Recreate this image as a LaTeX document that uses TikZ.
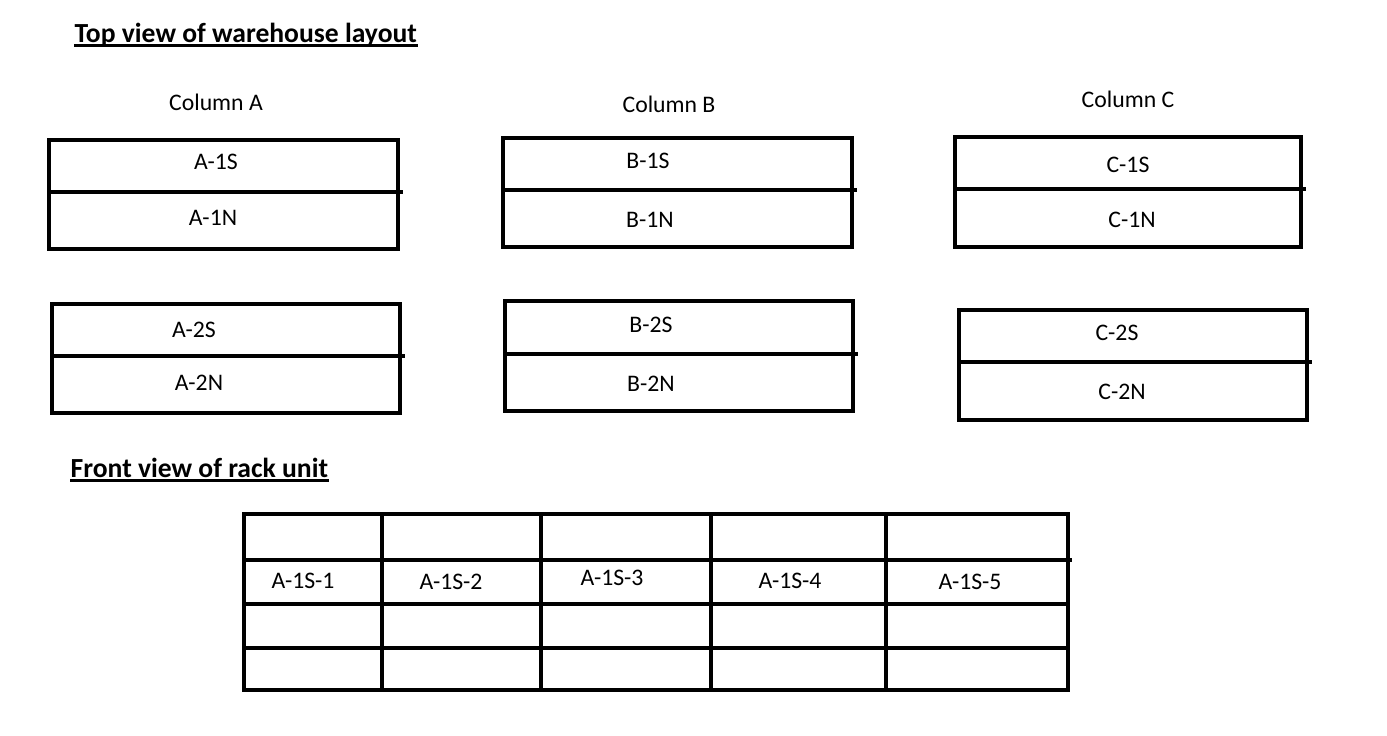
\documentclass[tikz,border=0pt]{standalone}
\usepackage{fontspec}
\setmainfont{Carlito}
\begin{document}
\begin{tikzpicture}[x=0.01cm,y=-0.01cm,
  wall/.style={line width=0.045cm,line cap=rect},
  uline/.style={line width=0.028cm},
  lbl/.style={font=\fontsize{6.75}{8}\selectfont,inner sep=0pt},
  head/.style={font=\fontsize{7.85}{9}\selectfont\bfseries,inner sep=0pt,anchor=base west}]
\useasboundingbox (0,0) rectangle (1387,736);
%
\node[head] (topview) at (74,42) {Top view of warehouse layout};
\draw[uline] ([yshift=-0.035cm]topview.base west) -- ([yshift=-0.035cm]topview.base east);
\node[lbl] (colA) at (216,102) {Column A};
\node[lbl] (colB) at (669,104) {Column B};
\node[lbl] (colC) at (1128,99) {Column C};
%
\draw[wall] (49,140) rectangle (398,249);
\draw[wall] (49,192) -- (401,192);
\draw[wall] (52,304) rectangle (400,413);
\draw[wall] (52,356) -- (403,356);
\draw[wall] (503,138) rectangle (852,247);
\draw[wall] (503,190) -- (855,190);
\draw[wall] (505,301) rectangle (853,411);
\draw[wall] (505,354) -- (856,354);
\draw[wall] (955,137) rectangle (1301,247);
\draw[wall] (955,189) -- (1304,189);
\draw[wall] (959,310) rectangle (1307,420);
\draw[wall] (959,362) -- (1310,362);
%
\node[lbl] (a1s) at (216,162) {A-1S};
\node[lbl] (a1n) at (213,218) {A-1N};
\node[lbl] (a2s) at (194,330) {A-2S};
\node[lbl] (a2n) at (199,383) {A-2N};
\node[lbl] (b1s) at (648,161) {B-1S};
\node[lbl] (b1n) at (650,220) {B-1N};
\node[lbl] (b2s) at (651,325) {B-2S};
\node[lbl] (b2n) at (651,384) {B-2N};
\node[lbl] (c1s) at (1128,165) {C-1S};
\node[lbl] (c1n) at (1132,220) {C-1N};
\node[lbl] (c2s) at (1117,333) {C-2S};
\node[lbl] (c2n) at (1122,392) {C-2N};
%
\node[head] (frontview) at (70,477) {Front view of rack unit};
\draw[uline] ([yshift=-0.035cm]frontview.base west) -- ([yshift=-0.035cm]frontview.base east);
%
\draw[wall] (244,514) rectangle (1068,690);
\draw[wall] (244,560) -- (1070,560);
\draw[wall] (244,604) -- (1068,604);
\draw[wall] (244,648) -- (1068,648);
\draw[wall] (382,514) -- (382,690);
\draw[wall] (541,514) -- (541,690);
\draw[wall] (711,514) -- (711,690);
\draw[wall] (886,514) -- (886,690);
%
\node[lbl] (slot1) at (303,581) {A-1S-1};
\node[lbl] (slot2) at (451,582) {A-1S-2};
\node[lbl] (slot3) at (612,578) {A-1S-3};
\node[lbl] (slot4) at (790,581) {A-1S-4};
\node[lbl] (slot5) at (970,582) {A-1S-5};
\end{tikzpicture}
\end{document}
